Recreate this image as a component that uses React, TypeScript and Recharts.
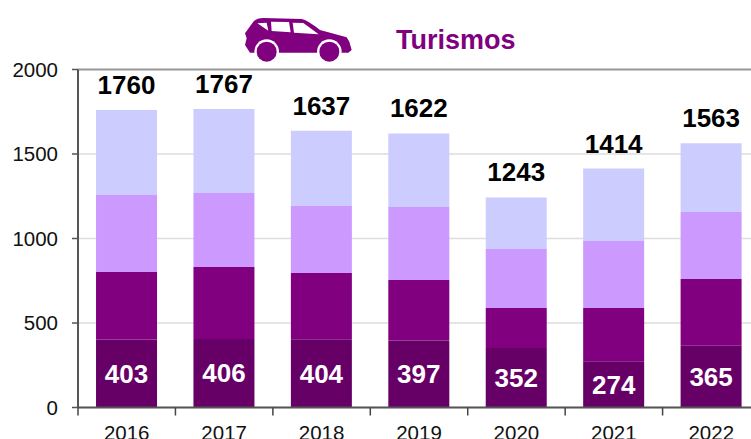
import { BarChart, Bar, XAxis, YAxis, CartesianGrid, LabelList, ReferenceLine } from "recharts";

const YEARS = ["2016", "2017", "2018", "2019", "2020", "2021", "2022"];
const BASE = [403, 406, 404, 397, 352, 274, 365];
const SECOND = [399, 425, 392, 357, 237, 315, 395];
const THIRD = [455, 438, 396, 432, 349, 396, 397];
const TOP = [503, 498, 445, 436, 305, 429, 406];
const TOTALS = [1760, 1767, 1637, 1622, 1243, 1414, 1563];
const Y_TICKS = [0, 500, 1000, 1500, 2000];

const COLORS = ["#660066", "#800080", "#CC99FF", "#CCCCFF"];
const FONT = "'Liberation Sans', Arial, sans-serif";
const BAND = 97.4;

const data = YEARS.map((year, i) => ({
  year,
  base: BASE[i],
  second: SECOND[i],
  third: THIRD[i],
  top: TOP[i],
  total: TOTALS[i],
}));

// ticks sit between the categories, labels stay centred
const YearTick = ({ x, y, payload }: any) => (
  <g>
    <line x1={x - BAND / 2} x2={x - BAND / 2} y1={y - 8} y2={y} stroke="#444" strokeWidth={1.5} />
    <text x={x} y={y + 24} textAnchor="middle" fontFamily={FONT} fontSize={20.5} fill="#111">
      {payload.value}
    </text>
  </g>
);

const CarIcon = () => (
  <svg width={320} height={80} viewBox="0 0 960 240" style={{ position: "absolute", left: 220, top: 0 }}>
    <path
      d="M75 100 L100 65 Q110 54 130 54 L245 57 Q262 60 300 90 L380 112 L388 125 L395 150 L385 158 L90 158 L75 135 L80 115 Z"
      fill="#800080"
    />
    <polygon points="112,70 140,68 145,92" fill="#fff" />
    <polygon points="153,65 207,66 212,97 155,93" fill="#fff" />
    <polygon points="218,68 250,69 296,103 222,98" fill="#fff" />
    <circle cx={140} cy={155} r={37} fill="#fff" />
    <circle cx={328} cy={155} r={37} fill="#fff" />
    <circle cx={140} cy={155} r={30} fill="#800080" />
    <circle cx={328} cy={155} r={30} fill="#800080" />
  </svg>
);

export default function App() {
  return (
    <div style={{ position: "absolute", left: 0, top: 0, width: 751, height: 439, overflow: "hidden", background: "#fff" }}>
      <BarChart
        width={770}
        height={439}
        data={data}
        barCategoryGap="18.5%"
        margin={{ top: 69.5, right: 10, left: 0, bottom: 0 }}
      >
        <CartesianGrid vertical={false} stroke="#dddddd" strokeWidth={1.5} />
        <XAxis
          dataKey="year"
          height={31.5}
          interval={0}
          axisLine={{ stroke: "#555", strokeWidth: 2 }}
          tickLine={false}
          tick={<YearTick />}
        />
        <YAxis
          width={78}
          domain={[0, 2000]}
          ticks={Y_TICKS}
          interval={0}
          axisLine={{ stroke: "#555", strokeWidth: 2 }}
          tickLine={{ stroke: "#555", strokeWidth: 1.5 }}
          tickSize={6}
          tickMargin={14}
          tick={{ fill: "#111", fontSize: 20.5, fontFamily: FONT }}
        />
        <ReferenceLine y={2000} stroke="#999" strokeWidth={2} />
        <Bar dataKey="base" stackId="a" fill={COLORS[0]} isAnimationActive={false}>
          <LabelList dataKey="base" position="center" fill="#fff" fontSize={26} fontWeight="bold" fontFamily={FONT} />
        </Bar>
        <Bar dataKey="second" stackId="a" fill={COLORS[1]} isAnimationActive={false} />
        <Bar dataKey="third" stackId="a" fill={COLORS[2]} isAnimationActive={false} />
        <Bar dataKey="top" stackId="a" fill={COLORS[3]} isAnimationActive={false}>
          <LabelList dataKey="total" position="top" offset={16} fill="#000" fontSize={26} fontWeight="bold" fontFamily={FONT} />
        </Bar>
      </BarChart>
      <CarIcon />
      <div
        style={{
          position: "absolute",
          left: 396,
          top: 25,
          fontFamily: FONT,
          fontWeight: "bold",
          fontSize: 27,
          lineHeight: "30px",
          color: "#800080",
        }}
      >
        Turismos
      </div>
    </div>
  );
}
